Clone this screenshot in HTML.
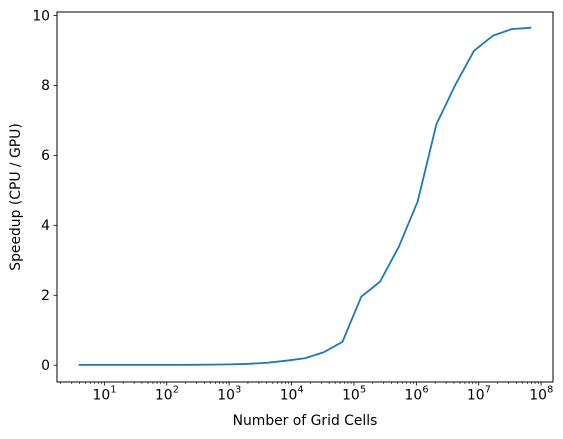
<!DOCTYPE html>
<html><head><meta charset="utf-8"><style>
body{margin:0;background:#fff;}
svg{display:block;font-family:"DejaVu Sans","Liberation Sans",sans-serif;}
</style></head><body>
<svg id="chart" width="563" height="439" viewBox="0 0 563 439">
<rect width="563" height="439" fill="#fff"/>
<g id="g"></g>
</svg>
<script>
const exponents = [2,3,4,5,6,7,8,9,10,11,12,13,14,15,16,17,18,19,20,21,22,23,24,25,26];
const speedups = [0.01,0.01,0.01,0.01,0.01,0.01,0.012,0.016,0.025,0.04,0.07,0.13,0.2,0.37,0.67,1.96,2.39,3.39,4.68,6.89,8.01,8.99,9.42,9.61,9.65];
const yTicks = [0,2,4,6,8,10];
const xTickExps = [1,2,3,4,5,6,7,8];

const L=57,R=553,T=12,B=382;
const xmin=0.241,xmax=8.19,ymin=-0.48,ymax=10.1;
const xs=v=>L+(v-xmin)/(xmax-xmin)*(R-L);
const ys=v=>B-(v-ymin)/(ymax-ymin)*(B-T);
const NS='http://www.w3.org/2000/svg';
const g=document.getElementById('g');
function mk(t,a){const e=document.createElementNS(NS,t);for(const k in a)e.setAttribute(k,a[k]);g.appendChild(e);return e;}

let d='';
exponents.forEach((e,i)=>{const x=xs(e*Math.log10(2)),y=ys(speedups[i]);d+=(i?'L':'M')+x.toFixed(2)+','+y.toFixed(2);});
const p=mk('path',{d:d,fill:'none',stroke:'#1f77b4','stroke-width':1.8,'stroke-linejoin':'round','stroke-linecap':'square'});



const fr=mk('rect',{x:L,y:T,width:R-L,height:B-T,fill:'none',stroke:'#000','stroke-width':1});



yTicks.forEach(v=>{const y=ys(v);
mk('line',{x1:L-3.5,x2:L,y1:y,y2:y,stroke:'#000','stroke-width':0.8});
const t=mk('text',{x:L-7,y:y+4.8,'text-anchor':'end','font-size':13.9,fill:'#000'});t.textContent=v;

});

xTickExps.forEach(e=>{const x=xs(e);
mk('line',{x1:x,x2:x,y1:B,y2:B+3.5,stroke:'#000','stroke-width':0.8});
const t=mk('text',{x:x-3,y:B+17.5,'text-anchor':'middle','font-size':13.9,fill:'#000'});
t.textContent='10';


const s=mk('text',{x:x+6,y:B+10.5,'text-anchor':'start','font-size':9.7,fill:'#000'});s.textContent=e;});
for(let e=0;e<=8;e++)for(let m=2;m<=9;m++){const v=e+Math.log10(m);if(v<xmin||v>xmax)continue;const x=xs(v);
mk('line',{x1:x,x2:x,y1:B,y2:B+2,stroke:'#000','stroke-width':0.6});}

const xl=mk('text',{x:(L+R)/2,y:425,'text-anchor':'middle','font-size':13.9,fill:'#000'});xl.textContent='Number of Grid Cells';


const yl=mk('text',{x:0,y:0,'text-anchor':'middle','font-size':13.9,fill:'#000',transform:`translate(20,${(T+B)/2}) rotate(-90)`});yl.textContent='Speedup (CPU / GPU)';


</script>
</body></html>
